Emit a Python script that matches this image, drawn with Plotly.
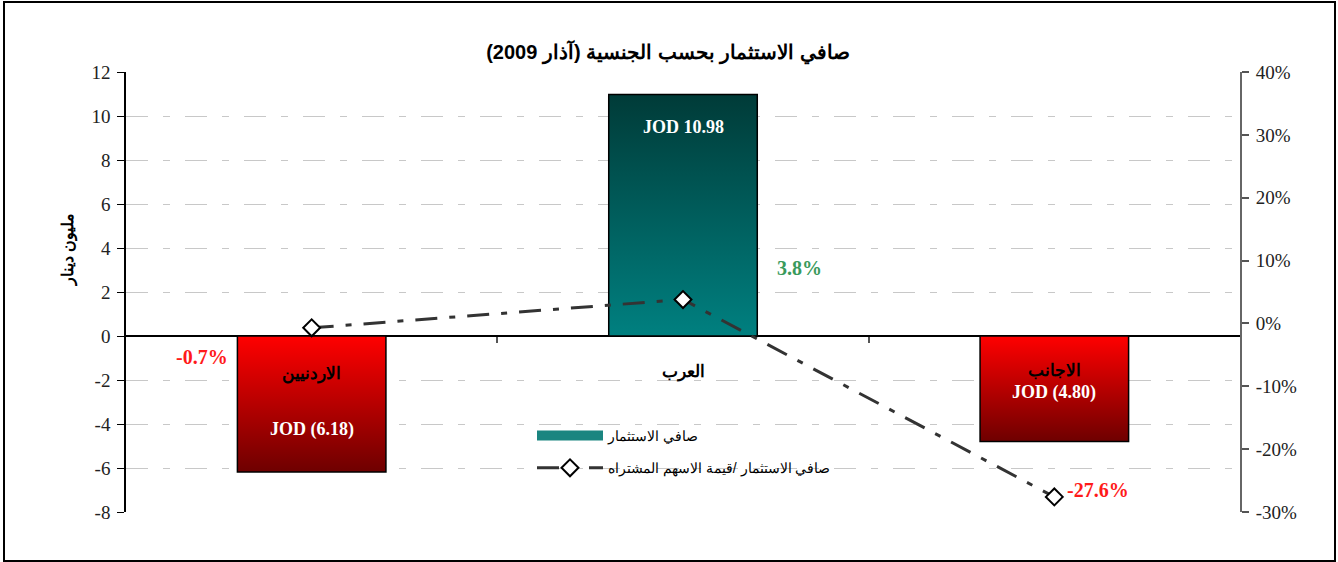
import plotly.graph_objects as go

categories = ["الاردنيين", "العرب", "الاجانب"]
net_investment = [-6.18, 10.98, -4.80]
ratio_pct = [-0.7, 3.8, -27.6]
left_ticks = [12, 10, 8, 6, 4, 2, 0, -2, -4, -6, -8]
right_ticks = [40, 30, 20, 10, 0, -10, -20, -30]

title_text = "صافي الاستثمار بحسب الجنسية (آذار 2009)"
ytitle_text = "مليون دينار"
legend_bar = "صافي الاستثمار"
legend_line = "صافي الاستثمار /قيمة الاسهم المشتراه"

W, H = 1338, 562
ML, MR, MT, MB = 126, 98, 72, 50
PW, PH = W - ML - MR, H - MT - MB

def px_x(p):
    return (p - ML) / PW

def px_y(p):
    return (H - MB - p) / PH

fig = go.Figure()

bar_w = 0.4
teal_scale = [[0, "#008080"], [1, "#003B38"]]
red_scale = [[0, "#6E0000"], [1, "#FF0000"]]
for i, v in enumerate(net_investment):
    x0, x1 = i - bar_w / 2, i + bar_w / 2
    scale = teal_scale if v >= 0 else red_scale
    fig.add_trace(go.Scatter(
        x=[x0, x1, x1, x0, x0], y=[0, 0, v, v, 0],
        mode="lines", fill="toself",
        fillgradient=dict(type="vertical", colorscale=scale),
        line=dict(color="black", width=1.5),
        showlegend=False, hoverinfo="skip",
    ))

# legend entry for the bars
fig.add_trace(go.Scatter(
    x=[None], y=[None], mode="lines",
    line=dict(color="#1A8580", width=12),
    name=legend_bar, legendgroup="g1", legendrank=1,
))

fig.add_trace(go.Scatter(
    x=list(range(len(categories))), y=ratio_pct, yaxis="y2",
    mode="lines+markers",
    line=dict(color="#333333", width=3, dash="22px,12px,6px,12px"),
    marker=dict(symbol="diamond", size=13, color="white",
                line=dict(color="black", width=2)),
    name=legend_line, legendgroup="g2", legendrank=2,
))

# bar annotations
name_y = [-1.73, -1.64, -1.55]
jod_y = [-4.23, 9.5, -2.55]
for i, v in enumerate(net_investment):
    fig.add_annotation(x=i, y=name_y[i], text="<b>%s</b>" % categories[i],
                       showarrow=False, font=dict(family="Liberation Sans, Arial", size=17, color="black"))
    lab = "JOD %.2f" % v if v >= 0 else "JOD (%.2f)" % abs(v)
    fig.add_annotation(x=i, y=jod_y[i], text="<b>%s</b>" % lab, showarrow=False,
                       font=dict(family="Liberation Serif, serif", size=18, color="white"))

# percentage labels
pct_pos = [(-0.295, -0.95), (1.315, 3.09), (2.118, -7.0)]
pct_col = ["#FF1A1A", "#3A9A5C", "#FF1A1A"]
for i, r in enumerate(ratio_pct):
    fig.add_annotation(x=pct_pos[i][0], y=pct_pos[i][1], text="<b>%.1f%%</b>" % r,
                       showarrow=False,
                       font=dict(family="Liberation Serif, serif", size=20, color=pct_col[i]))

fig.add_annotation(xref="paper", yref="paper", x=px_x(68), y=px_y(250),
                   xanchor="center", yanchor="middle",
                   text="<b>%s</b>" % ytitle_text, textangle=-90, showarrow=False,
                   font=dict(family="Liberation Sans, Arial", size=16, color="black"))

fig.add_shape(type="rect", xref="paper", yref="paper",
              x0=px_x(4), x1=px_x(1335), y0=px_y(561), y1=px_y(2),
              line=dict(color="black", width=2), layer="above")

fig.update_layout(
    width=W, height=H,
    margin=dict(l=ML, r=MR, t=MT, b=MB),
    paper_bgcolor="white", plot_bgcolor="white",
    title=dict(text="<b>%s</b>" % title_text, x=668 / W,
               xanchor="center", y=1 - 52 / H, yanchor="middle",
               font=dict(family="Liberation Sans, Arial", size=20, color="black")),
    xaxis=dict(range=[-0.5, 2.5], tickvals=[0.5, 1.5], showticklabels=False,
               ticks="outside", ticklen=6, tickcolor="#555", tickwidth=2,
               showgrid=False, zeroline=False, showline=False,
               anchor="free", position=px_y(336)),
    yaxis=dict(range=[-8, 12], tickvals=left_ticks, ticktext=[str(t) for t in left_ticks],
               showline=True, linecolor="black", linewidth=1.5,
               ticks="outside", ticklen=7, tickcolor="black", ticklabelstandoff=3,
               showgrid=True, gridcolor="#C8C8C8", griddash="22px,15px,7px,15px", gridwidth=1,
               zeroline=True, zerolinecolor="black", zerolinewidth=1.5,
               tickfont=dict(family="Liberation Serif, serif", size=19, color="#222")),
    yaxis2=dict(range=[-30, 40], tickvals=right_ticks,
                ticktext=["%d%%" % t for t in right_ticks],
                overlaying="y", side="right",
                showline=True, linecolor="#666", linewidth=2,
                ticks="outside", ticklen=7, tickcolor="#555", tickwidth=2, ticklabelstandoff=3,
                showgrid=False, zeroline=False,
                tickfont=dict(family="Liberation Serif, serif", size=19, color="#222")),
    legend=dict(x=px_x(532), y=px_y(420), xanchor="left", yanchor="top",
                bgcolor="rgba(0,0,0,0)", traceorder="grouped", tracegroupgap=11,
                itemwidth=66,
                font=dict(family="Liberation Sans, Arial", size=14, color="black")),
    showlegend=True,
)

fig.write_html("out.html", config={"displayModeBar": False},
               post_script="document.body.style.margin='0';")
